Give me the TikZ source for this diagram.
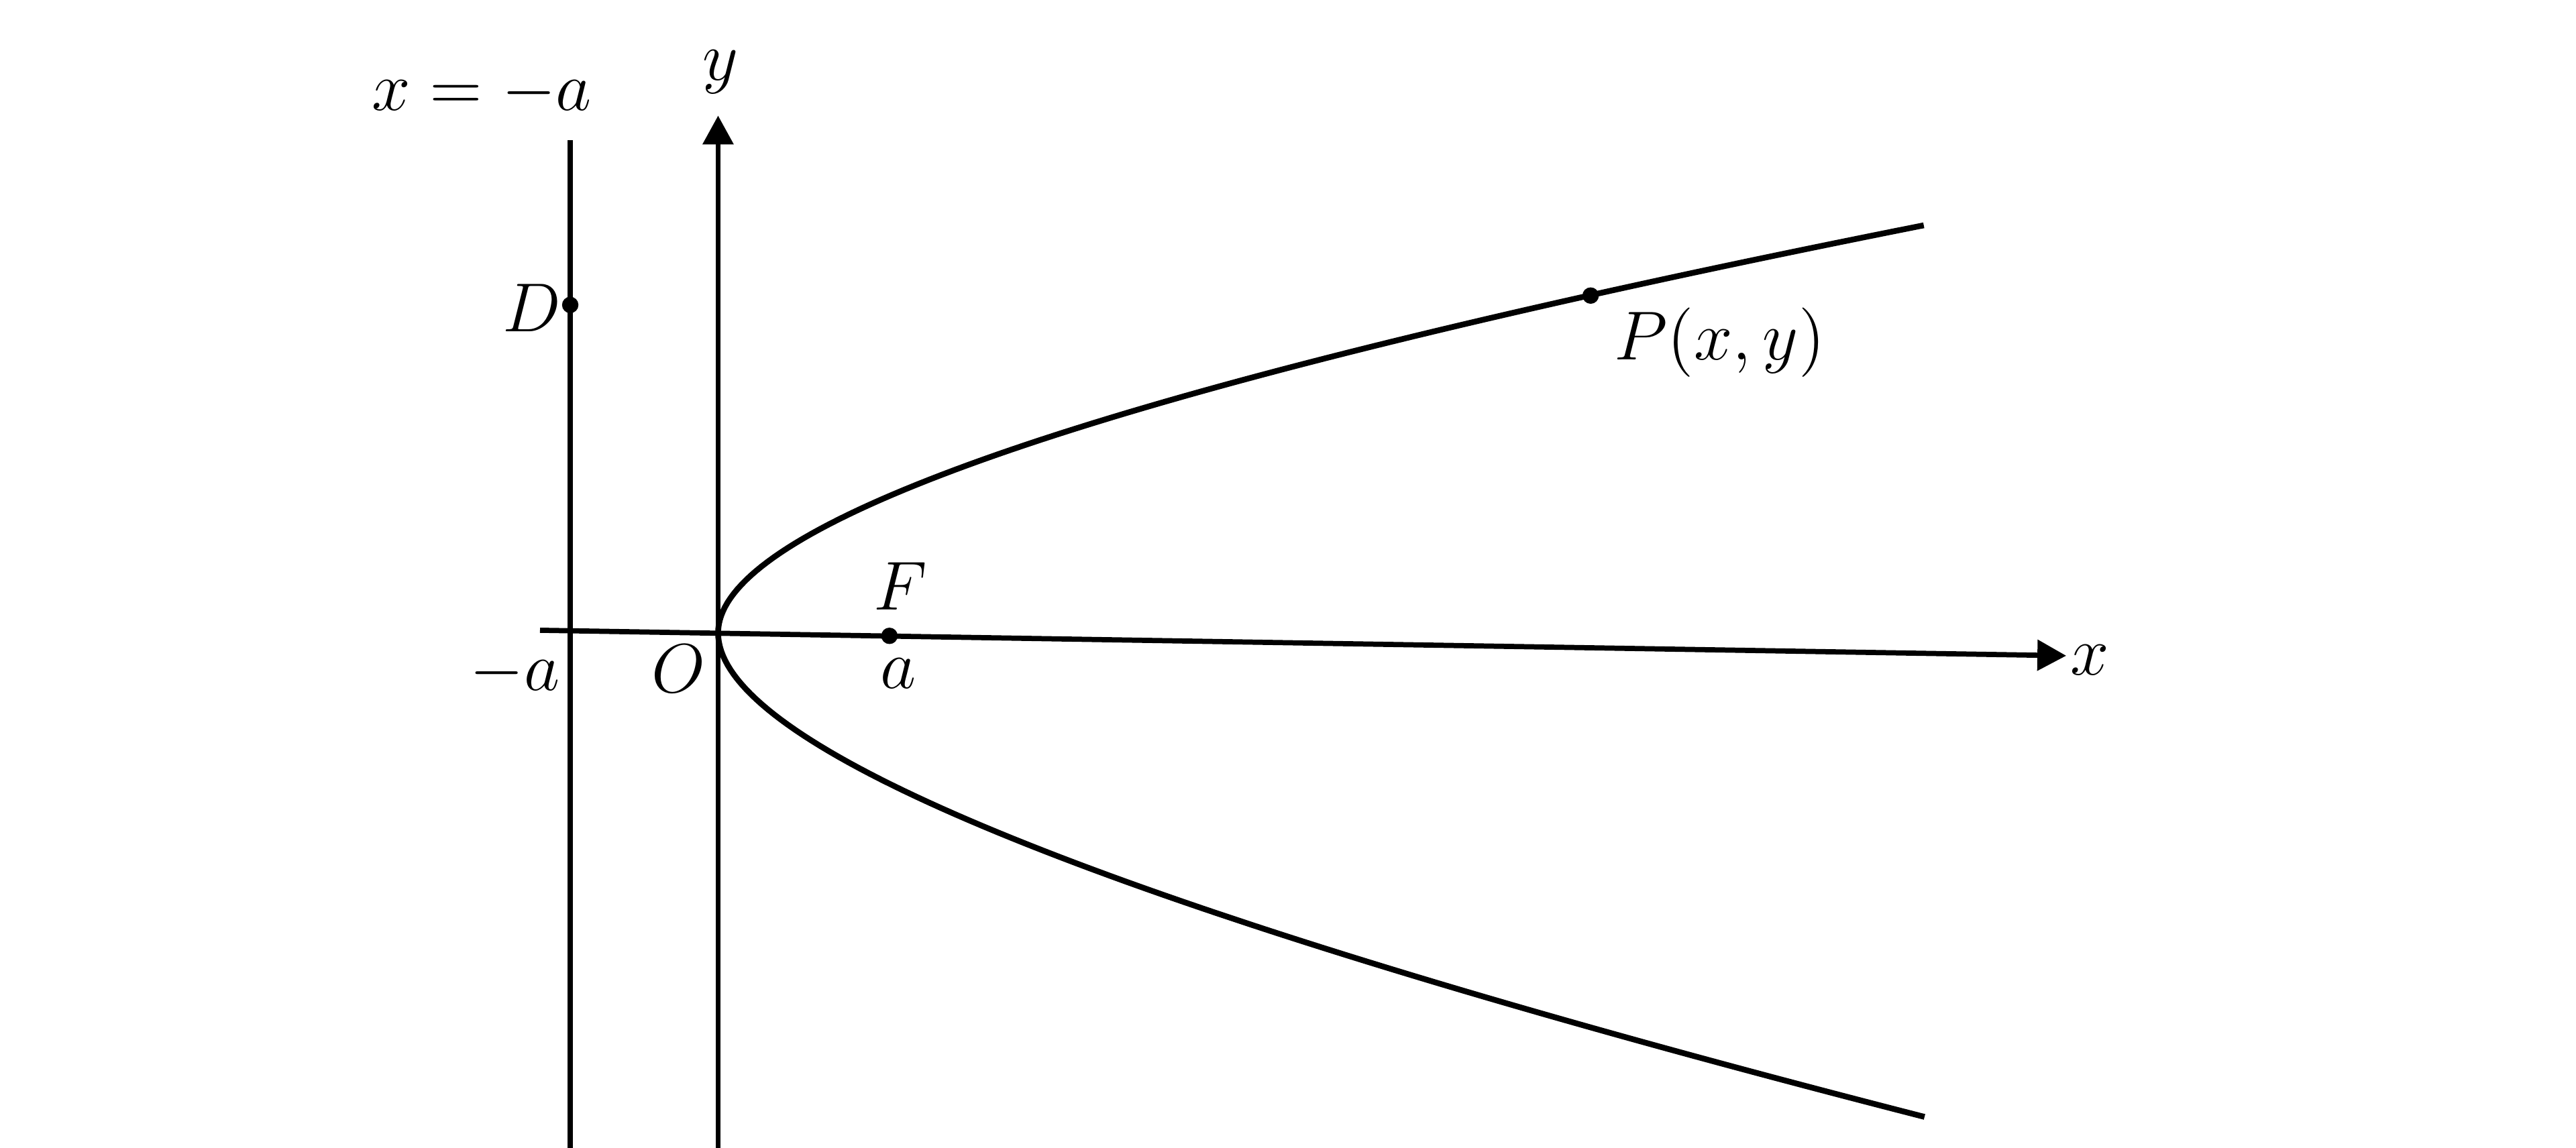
\documentclass[tikz,border=0pt]{standalone}
\usepackage{tikz}
\usetikzlibrary{arrows.meta}
\tikzset{
    % Lines
    axisline/.style={line width=0.9pt, black},
    arrowaxis/.style={axisline, -{Triangle[length=5pt, width=5.2pt]}},
    curveline/.style={line width=1pt, black, line join=round},
    % Points
    dotnode/.style={circle, fill=black, inner sep=0pt, minimum size=0.1cm},
    % Labels
    mathlabel/.style={inner sep=0pt, font=\large},
}

\begin{document}
\begin{tikzpicture}
\useasboundingbox (0,0) rectangle (15.68,6.99);

% ===== Axes and directrix =====
\coordinate (xstart) at (3.287,3.152);
\coordinate (xend) at (12.577,2.997);
\coordinate (ystart) at (4.371,0);
\coordinate (yend) at (4.371,6.286);
\coordinate (dstart) at (3.471,0);
\coordinate (dend) at (3.471,6.137);

\draw[arrowaxis] (xstart) -- (xend);
\draw[arrowaxis] (ystart) -- (yend);
\draw[axisline] (dstart) -- (dend);

% ===== Parabola =====
\draw[curveline] plot[domain=2.709:0, samples=80] ({4.371+\x*\x}, {3.136+0.7563*\x+0.059*\x*\x})
    -- plot[domain=0:2.711, samples=80] ({4.371+\x*\x}, {3.136-0.7857*\x-0.1114*\x*\x});

% ===== Points =====
\node (D) [dotnode] at (3.471,5.133) {};
\node (F) [dotnode] at (5.414,3.118) {};
\node (P) [dotnode] at (9.682,5.19) {};

% ===== Labels =====
\node (lbldir) [mathlabel, anchor=base] at (2.932,6.32) {$x=-a$};
\node (lbly) [mathlabel, anchor=base] at (4.385,6.50) {$y$};
\node (lblx) [mathlabel, anchor=base] at (12.72,2.879) {$x$};
\node (lblD) [mathlabel, anchor=base east] at (3.42,4.969) {$D$};
\node (lblma) [mathlabel, anchor=base east] at (3.414,2.785) {$-a$};
\node (lblO) [mathlabel, anchor=base east] at (4.30,2.773) {$O$};
\node (lbla) [mathlabel, anchor=base] at (5.467,2.797) {$a$};
\node (lblF) [mathlabel, anchor=base] at (5.48,3.275) {$F$};
\node (lblP) [mathlabel, anchor=base west] at (9.82,4.798) {$P(x,y)$};

\end{tikzpicture}
\end{document}
